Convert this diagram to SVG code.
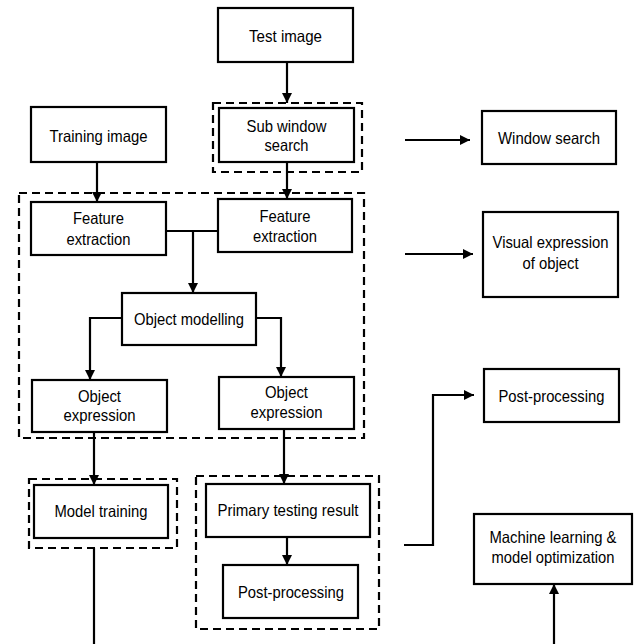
<svg xmlns="http://www.w3.org/2000/svg" width="634" height="644" viewBox="0 0 634 644">
<defs>
<style>
.box{fill:#fff;stroke:#000;stroke-width:2.2}
.dash{fill:none;stroke:#000;stroke-width:2.2;stroke-dasharray:8 5}
.t{font-family:"Liberation Sans",Arial,sans-serif;font-size:16.5px;fill:#000;text-anchor:middle}
.c{fill:none;stroke:#000;stroke-width:2.2}
</style>
<marker id="ah" viewBox="0 0 10 10" refX="10" refY="5" markerWidth="10" markerHeight="10" markerUnits="userSpaceOnUse" orient="auto">
<path d="M0,0 L10,5 L0,10 z" fill="#000"/>
</marker>
</defs>
<rect width="634" height="644" fill="#fff"/>
<g id="groups">
<rect class="dash" x="213" y="103" width="149" height="69"/>
<rect class="dash" x="19" y="193" width="345" height="245"/>
<rect class="dash" x="29" y="479" width="148" height="69"/>
<rect class="dash" x="196" y="476" width="183" height="153"/>
</g>
<g id="connectors">
<path class="c" d="M287,62 V103" marker-end="url(#ah)"/>
<path class="c" d="M97,162 V202" marker-end="url(#ah)"/>
<path class="c" d="M287,162 V199" marker-end="url(#ah)"/>
<path class="c" d="M166,231 H218"/>
<path class="c" d="M193,231 V293" marker-end="url(#ah)"/>
<path class="c" d="M122,318 H90 V380" marker-end="url(#ah)"/>
<path class="c" d="M256,318 H281 V377" marker-end="url(#ah)"/>
<path class="c" d="M94,432 V485" marker-end="url(#ah)"/>
<path class="c" d="M284,429 V484" marker-end="url(#ah)"/>
<path class="c" d="M287,537 V565" marker-end="url(#ah)"/>
<path class="c" d="M94,548 V644"/>
<path class="c" d="M404,545 H433 V395 H474" marker-end="url(#ah)"/>
<path class="c" d="M405,140 H470" marker-end="url(#ah)"/>
<path class="c" d="M405,254 H473" marker-end="url(#ah)"/>
<path class="c" d="M554,644 V584" marker-end="url(#ah)"/>
</g>
<g id="test-image">
<rect class="box" x="218" y="8" width="135" height="54"/>
<text class="t" x="285.5" y="42" textLength="73" lengthAdjust="spacingAndGlyphs">Test image</text>
</g>
<g id="sub-window-search">
<rect class="box" x="219" y="108" width="135" height="54"/>
<text class="t" x="286.5" y="132" textLength="80" lengthAdjust="spacingAndGlyphs">Sub window</text>
<text class="t" x="286.5" y="151" textLength="44" lengthAdjust="spacingAndGlyphs">search</text>
</g>
<g id="training-image">
<rect class="box" x="31" y="107" width="135" height="55"/>
<text class="t" x="98.5" y="142" textLength="98" lengthAdjust="spacingAndGlyphs">Training image</text>
</g>
<g id="window-search">
<rect class="box" x="482" y="111" width="134" height="53"/>
<text class="t" x="549" y="144" textLength="102" lengthAdjust="spacingAndGlyphs">Window search</text>
</g>
<g id="feature-extraction-left">
<rect class="box" x="31" y="202" width="135" height="53"/>
<text class="t" x="98.5" y="224" textLength="51" lengthAdjust="spacingAndGlyphs">Feature</text>
<text class="t" x="98.5" y="245" textLength="64" lengthAdjust="spacingAndGlyphs">extraction</text>
</g>
<g id="feature-extraction-right">
<rect class="box" x="218" y="199" width="134" height="53"/>
<text class="t" x="285" y="222" textLength="51" lengthAdjust="spacingAndGlyphs">Feature</text>
<text class="t" x="285" y="242" textLength="64" lengthAdjust="spacingAndGlyphs">extraction</text>
</g>
<g id="visual-expression">
<rect class="box" x="483" y="212" width="135" height="85"/>
<text class="t" x="550.5" y="248" textLength="116" lengthAdjust="spacingAndGlyphs">Visual expression</text>
<text class="t" x="550.5" y="269" textLength="56" lengthAdjust="spacingAndGlyphs">of object</text>
</g>
<g id="object-modelling">
<rect class="box" x="122" y="293" width="134" height="52"/>
<text class="t" x="189" y="325" textLength="110" lengthAdjust="spacingAndGlyphs">Object modelling</text>
</g>
<g id="object-expression-left">
<rect class="box" x="32" y="380" width="135" height="52"/>
<text class="t" x="99.5" y="402" textLength="43" lengthAdjust="spacingAndGlyphs">Object</text>
<text class="t" x="99.5" y="421" textLength="72" lengthAdjust="spacingAndGlyphs">expression</text>
</g>
<g id="object-expression-right">
<rect class="box" x="219" y="377" width="135" height="52"/>
<text class="t" x="286.5" y="398" textLength="43" lengthAdjust="spacingAndGlyphs">Object</text>
<text class="t" x="286.5" y="418" textLength="72" lengthAdjust="spacingAndGlyphs">expression</text>
</g>
<g id="post-processing-right">
<rect class="box" x="484" y="369" width="135" height="53"/>
<text class="t" x="551.5" y="402" textLength="106" lengthAdjust="spacingAndGlyphs">Post-processing</text>
</g>
<g id="model-training">
<rect class="box" x="34" y="485" width="134" height="53"/>
<text class="t" x="101" y="517" textLength="93" lengthAdjust="spacingAndGlyphs">Model training</text>
</g>
<g id="primary-testing-result">
<rect class="box" x="206" y="484" width="164" height="53"/>
<text class="t" x="288" y="516" textLength="141" lengthAdjust="spacingAndGlyphs">Primary testing result</text>
</g>
<g id="post-processing-bottom">
<rect class="box" x="223" y="565" width="135" height="53"/>
<text class="t" x="291" y="598" textLength="106" lengthAdjust="spacingAndGlyphs">Post-processing</text>
</g>
<g id="machine-learning">
<rect class="box" x="474" y="514" width="158" height="70"/>
<text class="t" x="553" y="543" textLength="127" lengthAdjust="spacingAndGlyphs">Machine learning &amp;</text>
<text class="t" x="553" y="563" textLength="123" lengthAdjust="spacingAndGlyphs">model optimization</text>
</g>
</svg>
